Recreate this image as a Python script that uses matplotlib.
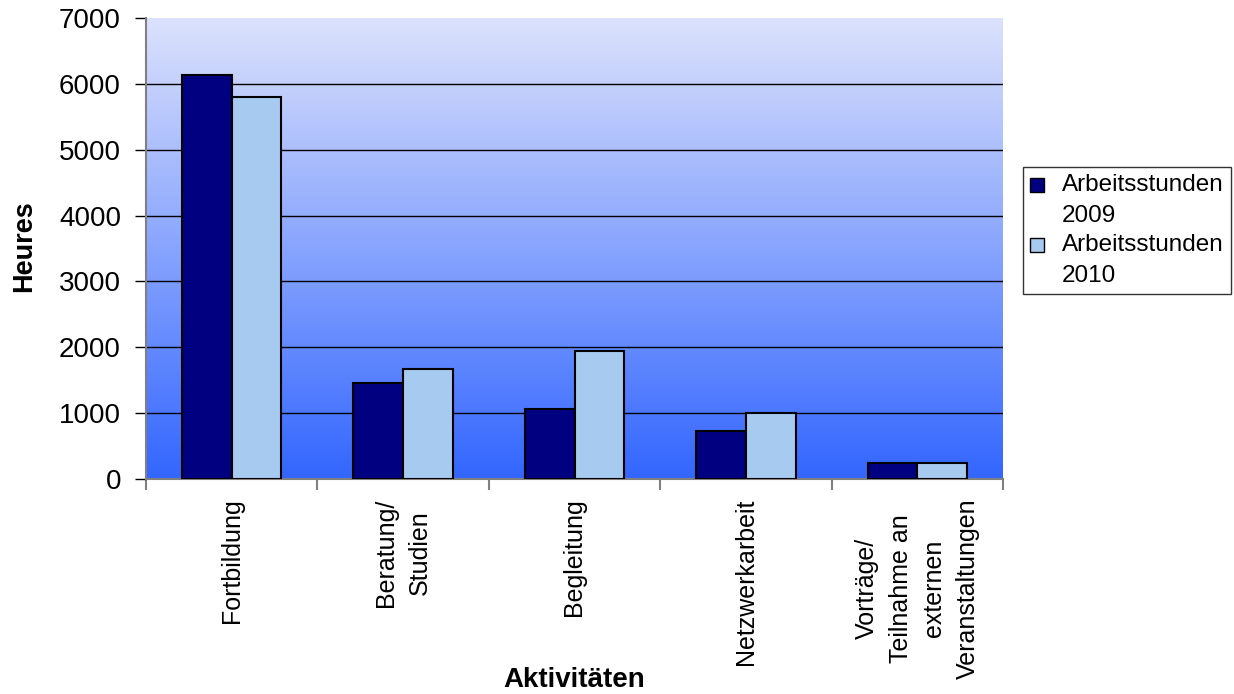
import numpy as np
import matplotlib
matplotlib.use("Agg")
import matplotlib.pyplot as plt
from matplotlib.colors import LinearSegmentedColormap
from matplotlib.patches import Patch

plt.rcParams['font.family'] = ['Liberation Sans', 'DejaVu Sans']

categories = ["Fortbildung", "Beratung/\nStudien", "Begleitung", "Netzwerkarbeit",
              "Vorträge/\nTeilnahme an\nexternen\nVeranstaltungen"]
hours_2009 = [6130, 1460, 1065, 730, 240]
hours_2010 = [5800, 1670, 1940, 1000, 238]
series_labels = ["Arbeitsstunden\n2009", "Arbeitsstunden\n2010"]
y_ticks = [0, 1000, 2000, 3000, 4000, 5000, 6000, 7000]

color_2009 = "#000080"
color_2010 = "#A6CAF0"

fig = plt.figure(figsize=(12.34, 6.94), dpi=100)
ax = fig.add_axes([146/1234, 1 - 479/694, (1003 - 146)/1234, (479 - 18)/694])

# gradient plot-area fill (light at top, saturated blue at bottom)
grad_cmap = LinearSegmentedColormap.from_list("bg", ["#3366FF", "#DCE2FC"])
grad = np.linspace(0, 1, 256).reshape(-1, 1)
ax.imshow(grad, cmap=grad_cmap, aspect="auto", origin="lower",
          extent=[0, 1, 0, 1], transform=ax.transAxes, zorder=0)

x = np.arange(len(categories))
w = 0.29
ax.bar(x - w/2, hours_2009, width=w, color=color_2009, edgecolor="black",
       linewidth=1.5, zorder=3)
ax.bar(x + w/2, hours_2010, width=w, color=color_2010, edgecolor="black",
       linewidth=1.5, zorder=3)

ax.set_xlim(-0.5, len(categories) - 0.5)
ax.set_ylim(0, 7000)
ax.set_yticks(y_ticks)
ax.tick_params(axis="y", labelsize=20, length=8, width=1, color="black", pad=10)

# horizontal gridlines
for v in y_ticks[1:-1]:
    ax.axhline(v, color="black", linewidth=1, zorder=1)

ax.set_xticks(x)
ax.set_xticklabels(categories, rotation=90, fontsize=18, va="top",
                   ha="center", multialignment="center")
for t in ax.get_xticklabels():
    t.set_linespacing(1.5)
ax.tick_params(axis="x", which="major", length=0, pad=14)
ax.set_xticks(np.arange(-0.5, len(categories)), minor=True)
ax.tick_params(axis="x", which="minor", length=8, width=1.5, color="#808080")

for s in ["top", "right"]:
    ax.spines[s].set_visible(False)
ax.spines["left"].set_color("#808080")
ax.spines["left"].set_linewidth(1.5)
ax.spines["bottom"].set_color("#808080")
ax.spines["bottom"].set_linewidth(1.5)

fig.text(24/1234, 1 - 246/694, "Heures", fontsize=19.5, fontweight="bold",
         rotation=90, ha="center", va="center")
fig.text(574.5/1234, 1 - 680/694, "Aktivitäten", fontsize=20, fontweight="bold",
         ha="center", va="center")

handles = [Patch(facecolor=color_2009, edgecolor="black", linewidth=1),
           Patch(facecolor=color_2010, edgecolor="black", linewidth=1)]
leg = fig.legend(handles, series_labels, loc="upper left",
                 bbox_to_anchor=(1023/1234, 1 - 167/694), fontsize=17.5,
                 frameon=True, fancybox=False, edgecolor="black",
                 handlelength=0.55, handleheight=0.55, handletextpad=0.75,
                 borderpad=0.3, labelspacing=0.3, borderaxespad=0)
leg.get_frame().set_linewidth(1)
for t in leg.get_texts():
    t.set_linespacing(1.5)
for h in leg.legend_handles:
    h.set_y(h.get_y() + 11)

fig.savefig("out.png", dpi=100, facecolor="white")
